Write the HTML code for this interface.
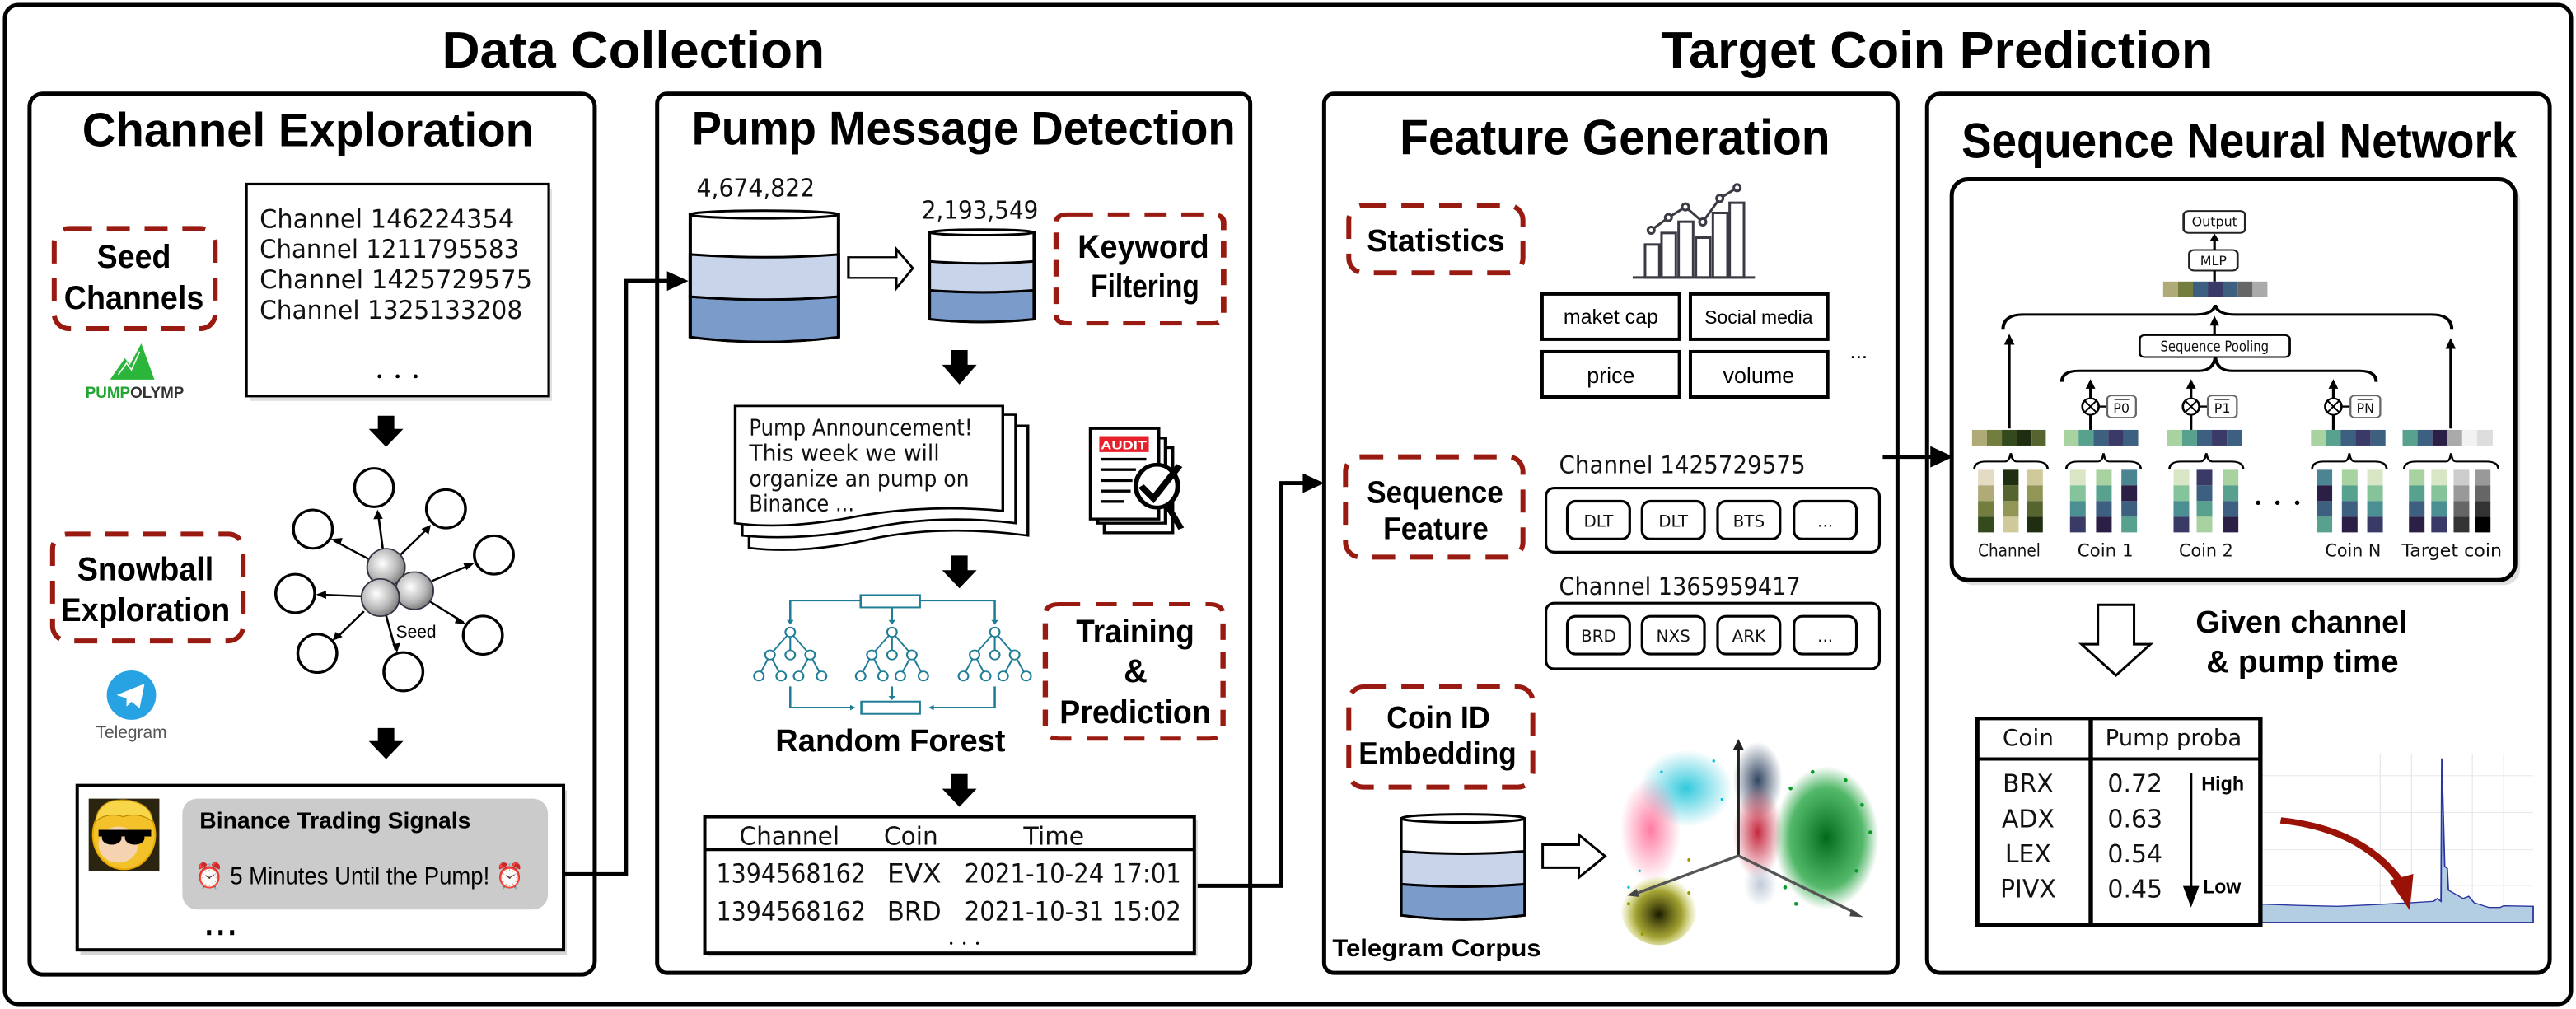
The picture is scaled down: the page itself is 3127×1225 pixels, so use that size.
<!DOCTYPE html>
<html><head><meta charset="utf-8">
<style>
html,body{margin:0;padding:0;background:#fff;}
svg{display:block;}
.b{font-family:"Liberation Sans",sans-serif;font-weight:bold;fill:#000;}
.h{font-family:"Liberation Sans",sans-serif;fill:#000;}
.m{font-family:"DejaVu Sans","Liberation Sans",sans-serif;fill:#111;}
</style></head>
<body>
<svg width="3127" height="1225" viewBox="0 0 1568 614" preserveAspectRatio="none" xmlns="http://www.w3.org/2000/svg">
<defs>
<radialGradient id="sph" cx="0.4" cy="0.4" r="0.65"><stop offset="0" stop-color="#fff"/><stop offset="0.6" stop-color="#bbb"/><stop offset="1" stop-color="#777"/></radialGradient>
<radialGradient id="gc" cx="0.5" cy="0.5" r="0.5"><stop offset="0" stop-color="#00bcd4" stop-opacity="0.8"/><stop offset="1" stop-color="#00bcd4" stop-opacity="0"/></radialGradient>
<radialGradient id="gp" cx="0.5" cy="0.5" r="0.5"><stop offset="0" stop-color="#ff5a8a" stop-opacity="0.8"/><stop offset="1" stop-color="#ff5a8a" stop-opacity="0"/></radialGradient>
<radialGradient id="gr" cx="0.5" cy="0.5" r="0.5"><stop offset="0" stop-color="#c0102a" stop-opacity="0.9"/><stop offset="1" stop-color="#c0102a" stop-opacity="0"/></radialGradient>
<radialGradient id="gd" cx="0.5" cy="0.5" r="0.5"><stop offset="0" stop-color="#1a3050" stop-opacity="0.9"/><stop offset="1" stop-color="#1a3050" stop-opacity="0"/></radialGradient>
<radialGradient id="gg" cx="0.5" cy="0.5" r="0.5"><stop offset="0" stop-color="#006a1a" stop-opacity="1"/><stop offset="0.7" stop-color="#0a9a2a" stop-opacity="0.7"/><stop offset="1" stop-color="#0a9a2a" stop-opacity="0"/></radialGradient>
<radialGradient id="gy" cx="0.5" cy="0.6" r="0.5"><stop offset="0" stop-color="#1a1a00" stop-opacity="1"/><stop offset="0.6" stop-color="#8a8a00" stop-opacity="0.8"/><stop offset="1" stop-color="#b5b500" stop-opacity="0"/></radialGradient>
<radialGradient id="ga" cx="0.5" cy="0.5" r="0.5"><stop offset="0" stop-color="#b8c4d4" stop-opacity="0.9"/><stop offset="1" stop-color="#b8c4d4" stop-opacity="0"/></radialGradient>
<g id="ca"><rect x="0" y="1050" width="42" height="57" fill="#d9e6c6"/><rect x="0" y="1107" width="42" height="57" fill="#85c49a"/><rect x="0" y="1164" width="42" height="57" fill="#4b8f93"/><rect x="0" y="1221" width="42" height="57" fill="#3a3a66"/></g>
<g id="cc"><rect x="0" y="1050" width="42" height="57" fill="#a8d2a0"/><rect x="0" y="1107" width="42" height="57" fill="#58a18e"/><rect x="0" y="1164" width="42" height="57" fill="#3d5f80"/><rect x="0" y="1221" width="42" height="57" fill="#2c1f45"/></g>
<g id="cd"><rect x="0" y="1050" width="42" height="57" fill="#4b8591"/><rect x="0" y="1107" width="42" height="57" fill="#2c1f45"/><rect x="0" y="1164" width="42" height="57" fill="#3d5f80"/><rect x="0" y="1221" width="42" height="57" fill="#58a18e"/></g>
<g id="ce"><rect x="0" y="1050" width="42" height="57" fill="#3a3a66"/><rect x="0" y="1107" width="42" height="57" fill="#3d5f80"/><rect x="0" y="1164" width="42" height="57" fill="#58a18e"/><rect x="0" y="1221" width="42" height="57" fill="#a8d2a0"/></g>
</defs>

<rect x="3" y="3" width="1562" height="608" rx="8" fill="none" stroke="#000" stroke-width="2.5"/>
<text class="b" x="269" y="41" font-size="31" textLength="233" lengthAdjust="spacingAndGlyphs">Data Collection</text>
<text class="b" x="1011" y="41" font-size="31" textLength="336" lengthAdjust="spacingAndGlyphs">Target Coin Prediction</text>

<!-- ============ Panel 1 ============ -->
<rect x="18" y="57" width="344" height="536" rx="8" fill="none" stroke="#000" stroke-width="2.5"/>
<text class="b" x="50" y="89" font-size="29" textLength="275" lengthAdjust="spacingAndGlyphs">Channel Exploration</text>

<rect x="33" y="139" width="98" height="61" rx="9" fill="none" stroke="#981a10" stroke-width="3" stroke-dasharray="14,9"/>
<text class="b" x="59" y="163" font-size="20" textLength="45" lengthAdjust="spacingAndGlyphs">Seed</text>
<text class="b" x="39" y="188" font-size="20" textLength="85" lengthAdjust="spacingAndGlyphs">Channels</text>

<polygon points="67,231 76,218 79,222 86,209 94,231" fill="#2bb53a"/>
<polyline points="72,228 77,221 80,225 85,214" fill="none" stroke="#fff" stroke-width="0.8"/>
<text x="52" y="242" font-size="9.5" font-family="Liberation Sans, sans-serif" font-weight="bold" textLength="60" lengthAdjust="spacingAndGlyphs"><tspan fill="#22a632">PUMP</tspan><tspan fill="#333">OLYMP</tspan></text>

<rect x="152" y="115" width="184" height="129" fill="#ccc" opacity="0.6"/>
<rect x="150" y="112" width="184" height="129" fill="#fff" stroke="#000" stroke-width="1.6"/>
<text class="m" x="158" y="138.5" font-size="15.5" textLength="155" lengthAdjust="spacingAndGlyphs">Channel 146224354</text>
<text class="m" x="158" y="157" font-size="15.5" textLength="158" lengthAdjust="spacingAndGlyphs">Channel 1211795583</text>
<text class="m" x="158" y="175.5" font-size="15.5" textLength="166" lengthAdjust="spacingAndGlyphs">Channel 1425729575</text>
<text class="m" x="158" y="194" font-size="15.5" textLength="160" lengthAdjust="spacingAndGlyphs">Channel 1325133208</text>
<circle cx="231" cy="229" r="1.2"/><circle cx="242" cy="229" r="1.2"/><circle cx="253" cy="229" r="1.2"/>

<path d="M230,253 h10 v8 h5.5 l-10.5,11 l-10.5,-11 h5.5 z" fill="#000"/>

<g transform="translate(20.06,190.57) scale(0.1919,0.1672)" fill="none" stroke="#000" stroke-width="9">
<ellipse cx="1082" cy="635" rx="62" ry="70"/>
<ellipse cx="1310" cy="712" rx="62" ry="70"/>
<ellipse cx="888" cy="786" rx="62" ry="70"/>
<ellipse cx="1462" cy="880" rx="62" ry="70"/>
<ellipse cx="832" cy="1020" rx="62" ry="70"/>
<ellipse cx="1427" cy="1172" rx="62" ry="70"/>
<ellipse cx="902" cy="1238" rx="62" ry="70"/>
<ellipse cx="1175" cy="1305" rx="62" ry="70"/>
<g stroke-width="7">
<line x1="1110" y1="860" x2="1095" y2="730"/>
<line x1="1165" y1="880" x2="1255" y2="780"/>
<line x1="1065" y1="895" x2="955" y2="828"/>
<line x1="1265" y1="975" x2="1390" y2="915"/>
<line x1="1040" y1="1030" x2="905" y2="1024"/>
<line x1="1260" y1="1050" x2="1365" y2="1125"/>
<line x1="1050" y1="1085" x2="960" y2="1185"/>
<line x1="1120" y1="1100" x2="1150" y2="1225"/>
</g>
<g fill="#000" stroke="none">
<polygon points="1093,715 1080,750 1110,748"/>
<polygon points="1262,770 1232,785 1255,805"/>
<polygon points="943,822 975,842 982,818"/>
<polygon points="1400,910 1365,910 1375,935"/>
<polygon points="898,1024 930,1010 930,1040"/>
<polygon points="1375,1132 1345,1105 1338,1128"/>
<polygon points="950,1192 960,1160 982,1178"/>
<polygon points="1155,1235 1140,1205 1165,1200"/>
</g>
<ellipse cx="1120" cy="925" rx="60" ry="68" fill="url(#sph)" stroke="#334" stroke-width="5"/>
<ellipse cx="1210" cy="1010" rx="60" ry="68" fill="url(#sph)" stroke="#334" stroke-width="5"/>
<ellipse cx="1102" cy="1035" rx="60" ry="68" fill="url(#sph)" stroke="#334" stroke-width="5"/>
</g>
<text class="h" x="241" y="388" font-size="10.5">Seed</text>

<rect x="32" y="325" width="116" height="65" rx="9" fill="none" stroke="#981a10" stroke-width="3" stroke-dasharray="14,9"/>
<text class="b" x="47" y="353" font-size="20" textLength="83" lengthAdjust="spacingAndGlyphs">Snowball</text>
<text class="b" x="37" y="378" font-size="20" textLength="103" lengthAdjust="spacingAndGlyphs">Exploration</text>

<circle cx="80" cy="423" r="15" fill="#27a3e3"/>
<path d="M71,423 L88,416 L85,431 L80,427 L77,430 L77,425 Z" fill="#fff"/>
<text class="h" x="80" y="449" font-size="10.5" text-anchor="middle" style="fill:#555">Telegram</text>

<path d="M230,443 h10 v8 h5.5 l-10.5,11 l-10.5,-11 h5.5 z" fill="#000"/>

<rect x="49" y="481" width="296" height="100" fill="#bbb" opacity="0.6"/>
<rect x="47" y="478" width="296" height="100" fill="#fff" stroke="#000" stroke-width="2"/>
<rect x="54" y="486" width="43" height="44" fill="#2a2410"/>
<ellipse cx="75.5" cy="508" rx="19" ry="21" fill="#f3c12a" stroke="#e8a800" stroke-width="1"/>
<path d="M58,500 Q60,485 78,487 Q92,489 93,500 Q85,494 75,497 Q65,494 58,500Z" fill="#f7d64a" stroke="#b98a00" stroke-width="0.6"/>
<ellipse cx="72" cy="514" rx="12" ry="11" fill="#f5d3b0"/>
<rect x="60" y="505" width="32" height="4" fill="#000"/>
<ellipse cx="68" cy="510" rx="6" ry="4" fill="#000"/><ellipse cx="82" cy="510" rx="6" ry="4" fill="#000"/>
<rect x="111" y="486" width="222.5" height="67.5" rx="9" fill="#cbcbcb"/>
<text class="b" x="121.5" y="504" font-size="14" textLength="165" lengthAdjust="spacingAndGlyphs">Binance Trading Signals</text>
<text class="h" x="119" y="538" font-size="15" textLength="200" lengthAdjust="spacingAndGlyphs">⏰ 5 Minutes Until the Pump! ⏰</text>
<rect x="126" y="566" width="2.5" height="3" fill="#000"/><rect x="133" y="566" width="2.5" height="3" fill="#000"/><rect x="140" y="566" width="2.5" height="3" fill="#000"/>

<polyline points="343,532 381,532 381,171 412,171" fill="none" stroke="#000" stroke-width="2.5"/>
<polygon points="406,165 419,171 406,177" fill="#000"/>

<!-- ============ Panel 2 ============ -->
<rect x="400" y="57" width="361" height="535" rx="6" fill="none" stroke="#000" stroke-width="2.5"/>
<text class="b" x="421" y="88" font-size="29" textLength="331" lengthAdjust="spacingAndGlyphs">Pump Message Detection</text>

<g transform="translate(411.2,95.3) scale(0.2239,0.1677)" stroke="#000" stroke-width="9">
<path d="M40,210 L40,655 Q241,690 443,655 L443,210 Z" fill="#fff"/>
<path d="M40,508 L40,655 Q241,690 443,655 L443,508 Q241,530 40,508Z" fill="#7b9bcb"/>
<path d="M40,355 L40,508 Q241,530 443,508 L443,355 Q241,375 40,355Z" fill="#c8d4ea"/>
<ellipse cx="241" cy="210" rx="201" ry="14" fill="#fff"/>
<path d="M690,275 L690,590 Q832,610 975,590 L975,275 Z" fill="#fff"/>
<path d="M690,485 L690,590 Q832,610 975,590 L975,485 Q832,500 690,485Z" fill="#7b9bcb"/>
<path d="M690,380 L690,485 Q832,500 975,485 L975,380 Q832,395 690,380Z" fill="#c8d4ea"/>
<ellipse cx="832" cy="275" rx="142" ry="10" fill="#fff"/>
<path d="M470,365 L600,365 L600,335 L645,405 L600,478 L600,440 L470,440 Z" fill="#fff" stroke-width="7"/>
<path d="M1075,210 L1460,210 Q1490,210 1490,240 L1490,575 Q1490,605 1460,605 L1065,605 Q1035,605 1035,575 L1035,240 Q1035,210 1065,210Z" fill="none" stroke="#981a10" stroke-width="15" stroke-dasharray="60,40"/>
</g>
<text class="m" x="424" y="119.6" font-size="15" textLength="72" lengthAdjust="spacingAndGlyphs">4,674,822</text>
<text class="m" x="561" y="133" font-size="15" textLength="71" lengthAdjust="spacingAndGlyphs">2,193,549</text>
<text class="b" x="656" y="157" font-size="20" textLength="80" lengthAdjust="spacingAndGlyphs">Keyword</text>
<text class="b" x="664" y="181" font-size="20" textLength="66" lengthAdjust="spacingAndGlyphs">Filtering</text>

<path d="M579,213 h10 v9 h5.5 l-10.5,12 l-10.5,-12 h5.5 z" fill="#000"/>

<g transform="translate(426.3,240.7) scale(0.2121,0.167)" stroke="#000" stroke-width="8">
<path d="M140,110 L940,110 L940,510 Q700,470 500,520 Q300,580 140,555 Z" fill="#fff"/>
<path d="M120,70 L905,70 L905,465 Q680,430 480,485 Q280,530 120,510 Z" fill="#fff"/>
<path d="M100,38 L868,38 L868,420 Q650,395 450,440 Q250,490 100,465 Z" fill="#fff"/>
<rect x="1160" y="190" width="195" height="310" fill="none" stroke-width="10"/>
<rect x="1140" y="155" width="195" height="310" fill="#fff" stroke-width="10"/>
<rect x="1120" y="120" width="195" height="330" fill="#fff" stroke-width="10"/>
<rect x="1145" y="148" width="142" height="58" fill="#e8202a" stroke="none"/>
<g stroke-width="10"><line x1="1150" y1="232" x2="1280" y2="232"/><line x1="1150" y1="270" x2="1250" y2="270"/><line x1="1150" y1="310" x2="1240" y2="310"/><line x1="1150" y1="348" x2="1235" y2="348"/><line x1="1150" y1="386" x2="1215" y2="386"/></g>
<ellipse cx="1310" cy="330" rx="60" ry="78" fill="#fff" stroke-width="14"/>
<path d="M1265,330 L1300,375 L1375,255" fill="none" stroke-width="20"/>
<line x1="1340" y1="400" x2="1380" y2="485" stroke-width="18"/>
<g stroke="#1f7d96" stroke-width="6" fill="#fff">
<rect x="460" y="727" width="170" height="45"/>
<polyline points="460,747 258,747 258,825" fill="none"/>
<polyline points="630,747 845,747 845,825" fill="none"/>
<line x1="550" y1="772" x2="550" y2="825"/>
<rect x="462" y="1115" width="168" height="45"/>
<polyline points="258,1060 258,1137 435,1137" fill="none"/>
<polyline points="845,1060 845,1137 665,1137" fill="none"/>
<line x1="550" y1="1060" x2="550" y2="1095"/>
</g>
<g fill="#1f7d96" stroke="none">
<polygon points="248,818 268,818 258,835"/><polygon points="540,818 560,818 550,835"/><polygon points="835,818 855,818 845,835"/>
<polygon points="430,1127 430,1147 445,1137"/><polygon points="670,1127 670,1147 655,1137"/><polygon points="540,1095 560,1095 550,1110"/>
</g>
<g id="tr" stroke="#1f7d96" stroke-width="5" fill="#fff">
<path d="M258,862 L200,945 M258,862 L258,945 M258,862 L315,945 M200,945 L168,1022 M200,945 L232,1022 M315,945 L282,1022 M315,945 L348,1022" fill="none"/>
<ellipse cx="258" cy="862" rx="14" ry="17"/><ellipse cx="200" cy="945" rx="14" ry="17"/><ellipse cx="258" cy="945" rx="14" ry="17"/><ellipse cx="315" cy="945" rx="14" ry="17"/>
<ellipse cx="168" cy="1022" rx="14" ry="17"/><ellipse cx="232" cy="1022" rx="14" ry="17"/><ellipse cx="282" cy="1022" rx="14" ry="17"/><ellipse cx="348" cy="1022" rx="14" ry="17"/>
</g>
<use href="#tr" x="292"/><use href="#tr" x="587"/>
<path d="M1030,760 L1460,760 Q1500,760 1500,800 L1500,1210 Q1500,1250 1460,1250 L1030,1250 Q990,1250 990,1210 L990,800 Q990,760 1030,760Z" fill="none" stroke="#981a10" stroke-width="15" stroke-dasharray="60,45"/>
</g>
<text x="670" y="273.5" font-size="7.5" font-family="Liberation Sans, sans-serif" font-weight="bold" fill="#fff" textLength="28" lengthAdjust="spacingAndGlyphs">AUDIT</text>
<text class="m" x="456" y="265" font-size="14" textLength="136" lengthAdjust="spacingAndGlyphs">Pump Announcement!</text>
<text class="m" x="456" y="280.5" font-size="14" textLength="116" lengthAdjust="spacingAndGlyphs">This week we will</text>
<text class="m" x="456" y="296" font-size="14" textLength="134" lengthAdjust="spacingAndGlyphs">organize an pump on</text>
<text class="m" x="456" y="311" font-size="14" textLength="64" lengthAdjust="spacingAndGlyphs">Binance ...</text>

<path d="M579,338 h10 v9 h5.5 l-10.5,11 l-10.5,-11 h5.5 z" fill="#000"/>
<text class="b" x="472" y="457" font-size="19" textLength="140" lengthAdjust="spacingAndGlyphs">Random Forest</text>
<text class="b" x="655" y="391" font-size="20" textLength="72" lengthAdjust="spacingAndGlyphs">Training</text>
<text class="b" x="684" y="415" font-size="20">&amp;</text>
<text class="b" x="645" y="440" font-size="20" textLength="92" lengthAdjust="spacingAndGlyphs">Prediction</text>

<path d="M579,471 h10 v9 h5.5 l-10.5,11 l-10.5,-11 h5.5 z" fill="#000"/>

<rect x="431" y="499" width="298" height="83" fill="#bbb" opacity="0.6"/>
<rect x="429" y="497" width="298" height="83" fill="#fff" stroke="#000" stroke-width="2"/>
<line x1="429" y1="517" x2="727" y2="517" stroke="#000" stroke-width="1.8"/>
<text class="m" x="450" y="514" font-size="15" textLength="61" lengthAdjust="spacingAndGlyphs">Channel</text>
<text class="m" x="538" y="514" font-size="15" textLength="33" lengthAdjust="spacingAndGlyphs">Coin</text>
<text class="m" x="623" y="514" font-size="15" textLength="37" lengthAdjust="spacingAndGlyphs">Time</text>
<text class="m" x="436" y="537" font-size="16" textLength="91" lengthAdjust="spacingAndGlyphs">1394568162</text>
<text class="m" x="540" y="537" font-size="16" textLength="33" lengthAdjust="spacingAndGlyphs">EVX</text>
<text class="m" x="587" y="537" font-size="16" textLength="132" lengthAdjust="spacingAndGlyphs">2021-10-24 17:01</text>
<text class="m" x="436" y="560" font-size="16" textLength="91" lengthAdjust="spacingAndGlyphs">1394568162</text>
<text class="m" x="540" y="560" font-size="16" textLength="33" lengthAdjust="spacingAndGlyphs">BRD</text>
<text class="m" x="587" y="560" font-size="16" textLength="132" lengthAdjust="spacingAndGlyphs">2021-10-31 15:02</text>
<circle cx="579" cy="574" r="0.8"/><circle cx="587" cy="574" r="0.8"/><circle cx="595" cy="574" r="0.8"/>

<polyline points="729,539 780,539 780,294 799,294" fill="none" stroke="#000" stroke-width="2.5"/>
<polygon points="793,288 806,294 793,300" fill="#000"/>

<!-- ============ Panel 3 ============ -->
<rect x="806" y="57" width="349" height="535" rx="6" fill="none" stroke="#000" stroke-width="2.5"/>
<text class="b" x="852" y="94" font-size="30" textLength="262" lengthAdjust="spacingAndGlyphs">Feature Generation</text>

<g fill="none" stroke="#981a10" stroke-width="3" stroke-dasharray="14,9">
<rect x="821" y="125" width="106" height="41" rx="9"/>
<rect x="819" y="278" width="108" height="61" rx="9"/>
<rect x="821" y="418" width="112" height="61" rx="9"/>
</g>
<text class="b" x="832" y="153" font-size="19" textLength="84" lengthAdjust="spacingAndGlyphs">Statistics</text>
<text class="b" x="832" y="306" font-size="19" textLength="83" lengthAdjust="spacingAndGlyphs">Sequence</text>
<text class="b" x="842" y="328" font-size="19" textLength="64" lengthAdjust="spacingAndGlyphs">Feature</text>
<text class="b" x="844" y="443" font-size="19" textLength="63" lengthAdjust="spacingAndGlyphs">Coin ID</text>
<text class="b" x="827" y="465" font-size="19" textLength="96" lengthAdjust="spacingAndGlyphs">Embedding</text>

<g transform="translate(932.8,100.3) scale(0.1672)" stroke="#3a3a44" stroke-width="9" fill="none">
<line x1="365" y1="410" x2="810" y2="410"/>
<rect x="410" y="290" width="52" height="120"/><rect x="470" y="248" width="52" height="162"/><rect x="532" y="207" width="53" height="203"/>
<rect x="595" y="265" width="52" height="145"/><rect x="657" y="175" width="53" height="235"/><rect x="718" y="138" width="52" height="272"/>
<polyline points="432,238 495,192 557,153 620,208 682,122 745,83"/>
<g fill="#fff"><circle cx="432" cy="238" r="12"/><circle cx="495" cy="192" r="12"/><circle cx="557" cy="153" r="12"/><circle cx="620" cy="208" r="12"/><circle cx="682" cy="122" r="12"/><circle cx="745" cy="83" r="12"/></g>
<g stroke="#000" stroke-width="12">
<rect x="35" y="470" width="500" height="165"/><rect x="575" y="470" width="500" height="165"/>
<rect x="35" y="680" width="500" height="165"/><rect x="575" y="680" width="500" height="165"/>
</g>
</g>
<text class="h" x="980.5" y="197" font-size="12.5" text-anchor="middle">maket cap</text>
<text class="h" x="1070.5" y="197" font-size="11.5" text-anchor="middle">Social media</text>
<text class="h" x="980.5" y="233" font-size="13.5" text-anchor="middle">price</text>
<text class="h" x="1070.5" y="233" font-size="13.5" text-anchor="middle">volume</text>
<text class="h" x="1126" y="218" font-size="13">...</text>

<text class="m" x="949" y="288" font-size="14.5" textLength="150" lengthAdjust="spacingAndGlyphs">Channel 1425729575</text>
<text class="m" x="949" y="362" font-size="14.5" textLength="147" lengthAdjust="spacingAndGlyphs">Channel 1365959417</text>
<g fill="#fff" stroke="#000" stroke-width="1.6">
<rect x="941" y="297" width="203" height="39" rx="5"/>
<rect x="954" y="305" width="38" height="23" rx="5"/><rect x="999.5" y="305" width="38" height="23" rx="5"/><rect x="1045.5" y="305" width="38" height="23" rx="5"/><rect x="1092" y="305" width="38" height="23" rx="5"/>
<rect x="941" y="367" width="203" height="40" rx="5"/>
<rect x="954" y="375" width="38" height="23" rx="5"/><rect x="999.5" y="375" width="38" height="23" rx="5"/><rect x="1045.5" y="375" width="38" height="23" rx="5"/><rect x="1092" y="375" width="38" height="23" rx="5"/>
</g>
<g class="m" font-size="10" text-anchor="middle">
<text x="973" y="320.5">DLT</text><text x="1018.5" y="320.5">DLT</text><text x="1064.5" y="320.5">BTS</text><text x="1111" y="320.5">...</text>
<text x="973" y="390.5">BRD</text><text x="1018.5" y="390.5">NXS</text><text x="1064.5" y="390.5">ARK</text><text x="1111" y="390.5">...</text>
</g>

<g stroke="#000" stroke-width="1.5">
<path d="M853,498 L853,557 Q890.5,562 928,557 L928,498 Z" fill="#fff"/>
<path d="M853,538 L853,557 Q890.5,562 928,557 L928,538 Q890.5,541 853,538Z" fill="#7b9bcb"/>
<path d="M853,518 L853,538 Q890.5,541 928,538 L928,518 Q890.5,521 853,518Z" fill="#c8d4ea"/>
<ellipse cx="890.5" cy="498" rx="37.5" ry="2.5" fill="#fff"/>
<path d="M939,514 L961,514 L961,508 L977,521 L961,534 L961,528 L939,528 Z" fill="#fff"/>
</g>
<text class="b" x="811" y="582" font-size="15" textLength="127" lengthAdjust="spacingAndGlyphs">Telegram Corpus</text>

<g transform="translate(972.9,436.3) scale(0.1672)">
<ellipse cx="320" cy="260" rx="170" ry="140" fill="url(#gc)"/>
<ellipse cx="190" cy="410" rx="110" ry="190" fill="url(#gp)"/>
<ellipse cx="580" cy="230" rx="90" ry="140" fill="url(#gd)"/>
<ellipse cx="580" cy="420" rx="90" ry="170" fill="url(#gr)"/>
<ellipse cx="590" cy="610" rx="60" ry="80" fill="url(#ga)"/>
<ellipse cx="830" cy="440" rx="190" ry="260" fill="url(#gg)"/>
<ellipse cx="220" cy="690" rx="140" ry="140" fill="url(#gy)"/>
<g fill="#0a9a2a"><circle cx="700" cy="260" r="7"/><circle cx="900" cy="230" r="7"/><circle cx="960" cy="320" r="7"/><circle cx="990" cy="420" r="7"/><circle cx="680" cy="620" r="7"/><circle cx="720" cy="680" r="7"/><circle cx="940" cy="560" r="7"/><circle cx="780" cy="200" r="7"/></g>
<g fill="#00c0d8"><circle cx="230" cy="200" r="5"/><circle cx="420" cy="160" r="5"/><circle cx="450" cy="300" r="5"/><circle cx="150" cy="560" r="5"/><circle cx="110" cy="620" r="5"/></g>
<g fill="#9a9a00"><circle cx="110" cy="680" r="6"/><circle cx="330" cy="640" r="6"/><circle cx="160" cy="790" r="6"/><circle cx="330" cy="520" r="6"/></g>
<g stroke-width="10" fill="#333">
<line x1="510" y1="505" x2="510" y2="110" stroke="#222"/>
<polygon points="490,120 510,80 530,120" fill="#222"/>
<line x1="510" y1="505" x2="130" y2="645" stroke="#555"/>
<polygon points="105,650 140,625 148,655" fill="#444"/>
<line x1="510" y1="505" x2="940" y2="715" stroke="#555"/>
<polygon points="965,728 920,700 915,725" fill="#444"/>
</g>
</g>

<line x1="1146" y1="278" x2="1181" y2="278" stroke="#000" stroke-width="2.5"/>
<polygon points="1175,271.5 1189,278 1175,284.5" fill="#000"/>

<!-- ============ Panel 4 ============ -->
<rect x="1173" y="57" width="379" height="535" rx="8" fill="none" stroke="#000" stroke-width="2.5"/>
<text class="b" x="1194" y="96" font-size="30" textLength="338" lengthAdjust="spacingAndGlyphs">Sequence Neural Network</text>

<rect x="1191" y="112" width="343" height="244" rx="10" fill="#ccc" opacity="0.6"/>
<rect x="1188" y="109" width="343" height="244" rx="10" fill="#fff" stroke="#000" stroke-width="2.5"/>

<g transform="translate(1188.6,110.3) scale(0.2267,0.1672)">
<g fill="none" stroke="#000" stroke-width="7">
<rect x="620" y="108" width="165" height="80" rx="14" fill="#fff" stroke="#222" stroke-width="6"/>
<rect x="635" y="250" width="130" height="75" rx="14" fill="#fff" stroke="#222" stroke-width="6"/>
<line x1="703" y1="250" x2="703" y2="215"/>
<line x1="703" y1="365" x2="703" y2="325"/>
<path d="M135,540 Q135,485 190,485 L650,485 Q700,485 705,450 Q710,485 760,485 L1285,485 Q1340,485 1340,540" stroke-width="9"/>
<line x1="703" y1="560" x2="703" y2="520"/>
<rect x="502" y="560" width="403" height="80" rx="14" fill="#fff" stroke-width="6"/>
<path d="M293,730 Q293,690 340,690 L660,690 Q700,690 705,640 Q710,690 750,690 L1090,690 Q1137,690 1137,730" stroke-width="9"/>
<line x1="152" y1="900" x2="152" y2="590"/>
<line x1="1337" y1="900" x2="1337" y2="605"/>
<line x1="370" y1="905" x2="370" y2="850"/><line x1="370" y1="790" x2="370" y2="750"/><line x1="392" y1="820" x2="415" y2="820"/>
<line x1="640" y1="905" x2="640" y2="850"/><line x1="640" y1="790" x2="640" y2="750"/><line x1="662" y1="820" x2="685" y2="820"/>
<line x1="1022" y1="905" x2="1022" y2="850"/><line x1="1022" y1="790" x2="1022" y2="750"/><line x1="1044" y1="820" x2="1068" y2="820"/>
<g stroke-width="6" fill="#fff">
<ellipse cx="370" cy="820" rx="22" ry="30"/><ellipse cx="640" cy="820" rx="22" ry="30"/><ellipse cx="1022" cy="820" rx="22" ry="30"/>
</g>
<g stroke-width="5">
<path d="M355,800 L385,840 M385,800 L355,840"/><path d="M625,800 L655,840 M655,800 L625,840"/><path d="M1007,800 L1037,840 M1037,800 L1007,840"/>
</g>
<rect x="415" y="780" width="77" height="80" rx="12" fill="#fff" stroke="#666" stroke-width="5"/>
<rect x="685" y="780" width="78" height="80" rx="12" fill="#fff" stroke="#666" stroke-width="5"/>
<rect x="1068" y="780" width="80" height="80" rx="12" fill="#fff" stroke="#666" stroke-width="5"/>
<path d="M58,1048 Q58,1020 90,1020 L140,1020 Q152,1020 156,990 Q160,1020 172,1020 L222,1020 Q255,1020 255,1048" stroke-width="6"/>
<path d="M305,1048 Q305,1020 337,1020 L390,1020 Q402,1020 405,990 Q408,1020 420,1020 L472,1020 Q505,1020 505,1048" stroke-width="6"/>
<path d="M582,1048 Q582,1020 614,1020 L665,1020 Q677,1020 681,990 Q685,1020 697,1020 L748,1020 Q780,1020 780,1048" stroke-width="6"/>
<path d="M965,1048 Q965,1020 997,1020 L1050,1020 Q1062,1020 1065,990 Q1068,1020 1080,1020 L1132,1020 Q1165,1020 1165,1048" stroke-width="6"/>
<path d="M1212,1048 Q1212,1020 1245,1020 L1325,1020 Q1335,1020 1338,990 Q1341,1020 1351,1020 L1432,1020 Q1465,1020 1465,1048" stroke-width="6"/>
</g>
<g fill="#000">
<polygon points="690,218 703,190 716,218"/><polygon points="690,525 703,490 716,525"/>
<polygon points="138,595 152,555 166,595"/><polygon points="1323,610 1337,570 1351,610"/>
<polygon points="357,755 370,720 383,755"/><polygon points="627,755 640,720 653,755"/><polygon points="1009,755 1022,720 1035,755"/>
</g>
<rect x="565" y="365" width="40" height="55" fill="#b0aa78"/><rect x="605" y="365" width="40" height="55" fill="#727d3e"/><rect x="645" y="365" width="40" height="55" fill="#3d5f80"/><rect x="685" y="365" width="40" height="55" fill="#3a3a66"/><rect x="725" y="365" width="40" height="55" fill="#3d5f80"/><rect x="765" y="365" width="40" height="55" fill="#666"/><rect x="805" y="365" width="40" height="55" fill="#aaa"/>
<rect x="52" y="905" width="40" height="57" fill="#b0aa78"/><rect x="92" y="905" width="40" height="57" fill="#727d3e"/><rect x="132" y="905" width="40" height="57" fill="#354a1c"/><rect x="172" y="905" width="40" height="57" fill="#1f2d10"/><rect x="212" y="905" width="38" height="57" fill="#566530"/>
<g id="cb"><rect x="298" y="905" width="40" height="57" fill="#a8d2a0"/><rect x="338" y="905" width="40" height="57" fill="#58a18e"/><rect x="378" y="905" width="40" height="57" fill="#3d5f80"/><rect x="418" y="905" width="40" height="57" fill="#3a3a66"/><rect x="458" y="905" width="40" height="57" fill="#3d5f80"/></g>
<use href="#cb" x="278"/><use href="#cb" x="664"/>
<rect x="1208" y="905" width="40" height="57" fill="#58a18e"/><rect x="1248" y="905" width="40" height="57" fill="#3d5f80"/><rect x="1288" y="905" width="40" height="57" fill="#2c1f45"/><rect x="1328" y="905" width="40" height="57" fill="#aaa"/><rect x="1368" y="905" width="40" height="57" fill="#f2f2f2"/><rect x="1408" y="905" width="42" height="57" fill="#ddd"/>
<rect x="68" y="1050" width="42" height="57" fill="#e2dcc5"/><rect x="68" y="1107" width="42" height="57" fill="#b0aa78"/><rect x="68" y="1164" width="42" height="57" fill="#727d3e"/><rect x="68" y="1221" width="42" height="57" fill="#354a1c"/>
<rect x="135" y="1050" width="42" height="57" fill="#1f2d10"/><rect x="135" y="1107" width="42" height="57" fill="#566530"/><rect x="135" y="1164" width="42" height="57" fill="#919556"/><rect x="135" y="1221" width="42" height="57" fill="#d0c99a"/>
<rect x="200" y="1050" width="42" height="57" fill="#d0c99a"/><rect x="200" y="1107" width="42" height="57" fill="#919556"/><rect x="200" y="1164" width="42" height="57" fill="#566530"/><rect x="200" y="1221" width="42" height="57" fill="#1f2d10"/>
<use href="#ca" x="315"/><use href="#cc" x="385"/><use href="#cd" x="453"/>
<use href="#ca" x="593"/><use href="#ce" x="655"/><use href="#cc" x="725"/>
<use href="#cd" x="977"/><use href="#cc" x="1045"/><use href="#ca" x="1113"/>
<use href="#cc" x="1225"/><use href="#ca" x="1285"/>
<rect x="1345" y="1050" width="42" height="57" fill="#ccc"/><rect x="1345" y="1107" width="42" height="57" fill="#999"/><rect x="1345" y="1164" width="42" height="57" fill="#666"/><rect x="1345" y="1221" width="42" height="57" fill="#333"/>
<rect x="1402" y="1050" width="42" height="57" fill="#999"/><rect x="1402" y="1107" width="42" height="57" fill="#666"/><rect x="1402" y="1164" width="42" height="57" fill="#333"/><rect x="1402" y="1221" width="42" height="57" fill="#000"/>
<g fill="#000"><ellipse cx="820" cy="1170" rx="6" ry="8"/><ellipse cx="872" cy="1170" rx="6" ry="8"/><ellipse cx="925" cy="1170" rx="6" ry="8"/></g>
</g>
<g class="m" text-anchor="middle">
<text x="1348" y="137.5" font-size="8">Output</text>
<text x="1347.3" y="161.5" font-size="8">MLP</text>
<text x="1348" y="213.8" font-size="9" textLength="66" lengthAdjust="spacingAndGlyphs">Sequence Pooling</text>
<text x="1291.3" y="251" font-size="8">P0</text>
<text x="1352.7" y="251" font-size="8">P1</text>
<text x="1439.8" y="251" font-size="8">PN</text>
<text x="1223" y="338.5" font-size="10.5" textLength="38" lengthAdjust="spacingAndGlyphs">Channel</text>
<text x="1281.5" y="338.5" font-size="10.5" textLength="34" lengthAdjust="spacingAndGlyphs">Coin 1</text>
<text x="1342.8" y="338.5" font-size="10.5" textLength="33" lengthAdjust="spacingAndGlyphs">Coin 2</text>
<text x="1432.3" y="338.5" font-size="10.5" textLength="34" lengthAdjust="spacingAndGlyphs">Coin N</text>
<text x="1492.4" y="338.5" font-size="10.5" textLength="61" lengthAdjust="spacingAndGlyphs">Target coin</text>
</g>
<g stroke="#000" stroke-width="0.8"><line x1="1287" y1="243" x2="1296" y2="243"/><line x1="1348" y1="243" x2="1357" y2="243"/><line x1="1435" y1="243" x2="1444" y2="243"/></g>

<path d="M1277,368 L1299,368 L1299,392 L1309,392 L1288,411 L1267,392 L1277,392 Z" fill="#fff" stroke="#000" stroke-width="1.5"/>
<text class="b" x="1336.5" y="385" font-size="19" textLength="129" lengthAdjust="spacingAndGlyphs">Given channel</text>
<text class="b" x="1343" y="409" font-size="19" textLength="117" lengthAdjust="spacingAndGlyphs">&amp; pump time</text>

<g transform="translate(1198.6,431.3) scale(0.2244,0.1698)">
<g stroke="#e8e8ee" stroke-width="3"><line x1="790" y1="240" x2="1530" y2="240"/><line x1="790" y1="372" x2="1530" y2="372"/><line x1="790" y1="505" x2="1530" y2="505"/><line x1="790" y1="633" x2="1530" y2="633"/><line x1="1115" y1="160" x2="1115" y2="765"/><line x1="1200" y1="160" x2="1200" y2="765"/><line x1="1365" y1="160" x2="1365" y2="765"/><line x1="1450" y1="160" x2="1450" y2="765"/></g>
<path d="M790,700 L900,705 L1000,708 L1100,702 L1200,695 L1260,690 L1270,680 L1280,690 L1282,178 L1290,565 L1297,572 L1300,650 L1340,680 L1355,672 L1370,695 L1410,712 L1440,712 L1450,706 L1530,708 L1530,765 L790,765 Z" fill="#b3cde3" stroke="#2a35a0" stroke-width="4"/>
<line x1="790" y1="767" x2="1530" y2="767" stroke="#777" stroke-width="3"/>
<path d="M845,400 Q1060,430 1165,610" fill="none" stroke="#9a1205" stroke-width="22"/>
<polygon points="1140,615 1205,592 1195,722" fill="#9a1205"/>
<rect x="22" y="35" width="768" height="740" fill="#fff" stroke="#000" stroke-width="12"/>
<line x1="22" y1="180" x2="790" y2="180" stroke="#000" stroke-width="12"/>
<line x1="330" y1="35" x2="330" y2="775" stroke="#000" stroke-width="12"/>
<line x1="602" y1="230" x2="602" y2="640" stroke="#000" stroke-width="7"/>
<polygon points="580,635 624,635 602,712" fill="#000"/>
</g>
<g class="m" text-anchor="middle">
<text x="1234.5" y="453.5" font-size="14">Coin</text>
<text x="1323" y="453.5" font-size="14" textLength="83" lengthAdjust="spacingAndGlyphs">Pump proba</text>
<text x="1234.5" y="482" font-size="15">BRX</text><text x="1299.6" y="482" font-size="15">0.72</text>
<text x="1234.5" y="503.5" font-size="15">ADX</text><text x="1299.6" y="503.5" font-size="15">0.63</text>
<text x="1234.5" y="524.7" font-size="15">LEX</text><text x="1299.6" y="524.7" font-size="15">0.54</text>
<text x="1234.5" y="546" font-size="15">PIVX</text><text x="1299.6" y="546" font-size="15">0.45</text>
</g>
<text class="b" x="1340" y="481" font-size="12" textLength="26" lengthAdjust="spacingAndGlyphs">High</text>
<text class="b" x="1341" y="543.5" font-size="12" textLength="23" lengthAdjust="spacingAndGlyphs">Low</text>
</svg>
</body></html>
